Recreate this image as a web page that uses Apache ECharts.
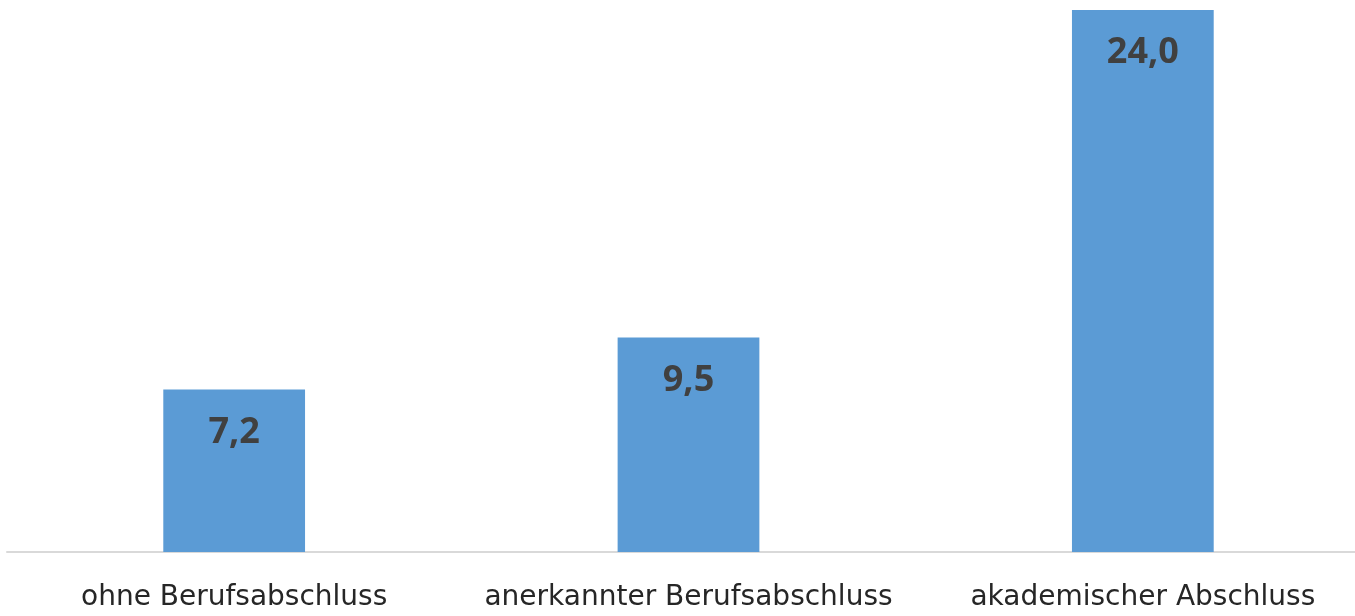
<!DOCTYPE html>
<html><head><meta charset="utf-8">
<script src="https://cdn.jsdelivr.net/npm/echarts@6/dist/echarts.min.js"></script>
<style>html,body{margin:0;padding:0;background:#fff;overflow:hidden}#c{width:1370px;height:616px}</style>
</head><body><div id="c"></div>
<script>
const categories = ['ohne Berufsabschluss', 'anerkannter Berufsabschluss', 'akademischer Abschluss'];
const values = [7.2, 9.5, 24.0];

const chart = echarts.init(document.getElementById('c'));
chart.setOption({
  animation: false,
  grid: { left: 7, right: 0, top: 10, bottom: 64, containLabel: false },
  xAxis: {
    type: 'category', data: categories,
    axisLine: { lineStyle: { color: '#d9d9d9', width: 2 } },
    axisTick: { show: false },
    axisLabel: { interval: 0, color: '#262626', fontSize: 28, fontFamily: 'DejaVu Sans', margin: 32 }
  },
  yAxis: { type: 'value', min: 0, max: 24, show: false, splitLine: { show: false } },
  series: [{
    type: 'bar', data: values, barWidth: '31.2%',
    itemStyle: { color: '#5b9bd5' },
    label: {
      show: true, position: 'insideTop', distance: 25,
      formatter: p => p.value.toFixed(1).replace('.', ','),
      color: '#404040', fontSize: 36, fontWeight: 'bold', fontFamily: 'Open Sans'
    }
  }]
});
</script></body></html>
